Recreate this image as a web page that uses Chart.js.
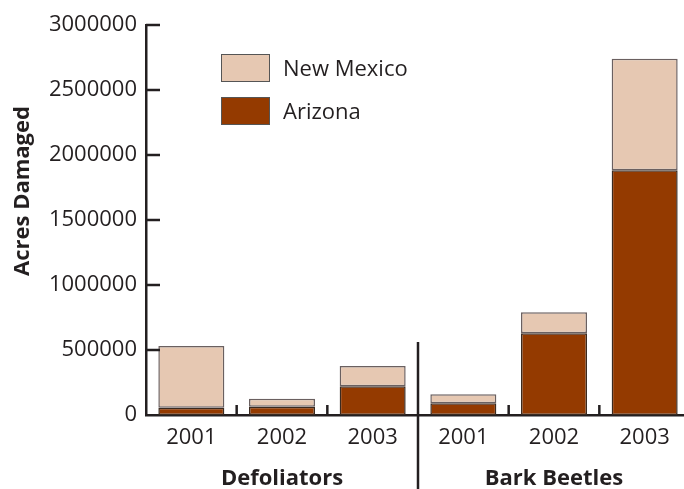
<!DOCTYPE html>
<html>
<head>
<meta charset="utf-8">
<script src="https://cdn.jsdelivr.net/npm/chart.js@4.4.1/dist/chart.umd.min.js"></script>
<style>
  body { margin: 0; background: #fff; }
  .wrap { position: relative; width: 684px; height: 489px; overflow: hidden; }
  .legend { position: absolute; left: 221px; font-family: "Open Sans", sans-serif; font-size: 22px; color: #231f20; }
  .legend span.box { position: absolute; left: 0; width: 47px; height: 26px; border: 1px solid #555; }
  .legend span.txt { position: absolute; left: 62px; top: -1px; white-space: nowrap; line-height: 28px; }
</style>
</head>
<body>
<div class="wrap">
  <canvas id="bar-chart" width="690" height="489"></canvas>
  <div class="legend" style="top:54px"><span class="box" style="background:#e6c8b2"></span><span class="txt">New Mexico</span></div>
  <div class="legend" style="top:97px"><span class="box" style="background:#943a00"></span><span class="txt">Arizona</span></div>
</div>
<script>
const years = ["2001", "2002", "2003", "2001", "2002", "2003"];
const groups = ["Defoliators", "Bark Beetles"];
const arizona = [55000, 64000, 221000, 90000, 628000, 1882000];
const newMexico = [475000, 61000, 156000, 69000, 162000, 859000];
const yTicks = [0, 500000, 1000000, 1500000, 2000000, 2500000, 3000000];

const ink = "#231f20";
const font = "Open Sans";

// inner tick marks, the divider and the rotated axis title
const extras = {
  id: "extras",
  afterDraw(chart) {
    const ctx = chart.ctx;
    const x = chart.scales.x, y = chart.scales.y;
    const base = y.getPixelForValue(0);
    ctx.save();
    ctx.strokeStyle = ink;
    ctx.lineWidth = 2.5;
    yTicks.forEach(v => {
      if (v === 0) return;
      const py = y.getPixelForValue(v);
      ctx.beginPath();
      ctx.moveTo(x.left, py);
      ctx.lineTo(x.left + 14, py);
      ctx.stroke();
    });
    [0, 1, 3, 4].forEach(i => {
      const px = (x.getPixelForValue(i) + x.getPixelForValue(i + 1)) / 2;
      ctx.beginPath();
      ctx.moveTo(px, base);
      ctx.lineTo(px, base - 10);
      ctx.stroke();
    });
    const sep = (x.getPixelForValue(2) + x.getPixelForValue(3)) / 2;
    ctx.beginPath();
    ctx.moveTo(sep, base - 73);
    ctx.lineTo(sep, chart.height);
    ctx.stroke();

    ctx.fillStyle = ink;
    ctx.font = "bold 22px '" + font + "'";
    ctx.textAlign = "center";
    ctx.textBaseline = "middle";
    ctx.translate(23, 191);
    ctx.rotate(-Math.PI / 2);
    ctx.fillText("Acres Damaged", 0, 0);
    ctx.restore();
  }
};

new Chart(document.getElementById("bar-chart"), {
  type: "bar",
  data: {
    labels: years,
    datasets: [
      {
        label: "Arizona",
        data: arizona,
        backgroundColor: "#943a00",
        borderColor: "#3a2a20",
        borderWidth: 1.5,
        borderSkipped: false,
        barPercentage: 0.728,
        categoryPercentage: 1
      },
      {
        label: "New Mexico",
        data: newMexico,
        backgroundColor: "#e6c8b2",
        borderColor: "#6a6060",
        borderWidth: 1.5,
        borderSkipped: false,
        barPercentage: 0.728,
        categoryPercentage: 1
      }
    ]
  },
  options: {
    responsive: false,
    animation: false,
    layout: { padding: { top: 25, right: 0, left: 0, bottom: 0 } },
    plugins: { legend: { display: false }, tooltip: { enabled: false } },
    scales: {
      x: {
        stacked: true,
        grid: { display: false, drawTicks: false },
        border: { display: true, color: ink, width: 2.5 },
        ticks: { color: ink, padding: 10, font: { family: font, size: 22 } },
        afterFit(s) { s.height = 40; }
      },
      x2: {
        type: "category",
        labels: groups,
        position: "bottom",
        offset: true,
        grid: { display: false, drawTicks: false },
        border: { display: false },
        ticks: { color: ink, padding: 11, font: { family: font, size: 22, weight: "bold" } },
        afterFit(s) { s.height = 34; }
      },
      y: {
        stacked: true,
        min: 0,
        max: 3000000,
        grid: { display: false, drawTicks: false },
        border: { display: true, color: ink, width: 2.5 },
        ticks: {
          stepSize: 500000,
          color: ink,
          padding: 9,
          font: { family: font, size: 22 },
          callback: v => String(v)
        },
        afterFit(s) { s.width = 146; }
      }
    }
  },
  plugins: [extras]
});
</script>
</body>
</html>
